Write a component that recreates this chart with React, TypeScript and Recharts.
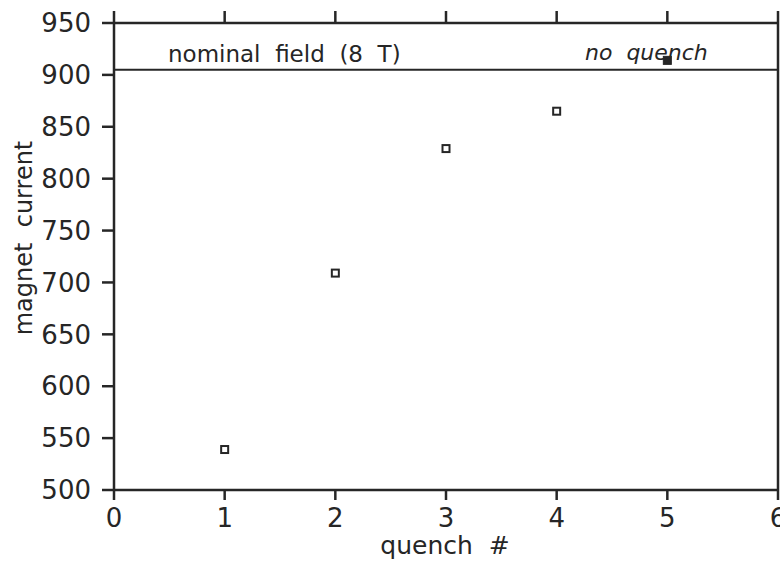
import React from 'react';
import {
  ScatterChart,
  Scatter,
  XAxis,
  YAxis,
  ReferenceLine,
  Label,
} from 'recharts';

// quenches that reached a current
const quenchNo = [1, 2, 3, 4];
const quenchCurrent = [539, 709, 829, 865];
// last run, no quench
const noQuenchNo = [5];
const noQuenchCurrent = [914];

const nominalCurrent = 905;
const xTicks = [0, 1, 2, 3, 4, 5, 6];
const yTicks = [500, 550, 600, 650, 700, 750, 800, 850, 900, 950];

const quenchData = quenchNo.map((q, i) => ({ q, current: quenchCurrent[i] }));
const noQuenchData = noQuenchNo.map((q, i) => ({ q, current: noQuenchCurrent[i] }));

const INK = '#262626';
const FONT = '"DejaVu Sans", sans-serif';
const pre = { whiteSpace: 'pre' as const };

const OpenSquare = (props: any) => (
  <rect x={props.cx - 3.5} y={props.cy - 3.5} width={7} height={7} fill="#fff" stroke={INK} strokeWidth={2} />
);
const FilledSquare = (props: any) => (
  <rect x={props.cx - 4} y={props.cy - 4} width={8} height={8} fill={INK} stroke={INK} strokeWidth={1} />
);
const NoTick = () => <g />;

export default function App() {
  const tickStyle = { fontSize: 26, fill: INK, fontFamily: FONT };
  return (
    <div style={{ position: 'absolute', left: 0, top: 0, width: 780, height: 561, background: '#fff' }}>
      <ScatterChart width={780} height={561} margin={{ top: 11, right: 0, bottom: 0, left: 0 }}>
        <XAxis
          xAxisId="bottom"
          type="number"
          dataKey="q"
          domain={[0, 6]}
          ticks={xTicks}
          interval={0}
          height={71}
          tickSize={10}
          tickMargin={9}
          tick={tickStyle}
          axisLine={{ stroke: INK, strokeWidth: 2.5 }}
          tickLine={{ stroke: INK, strokeWidth: 2.5 }}
        >
          <Label
            content={() => (
              <text x={445} y={554} textAnchor="middle" fontSize={25} fontFamily={FONT} fill={INK} style={pre}>
                quench  #
              </text>
            )}
          />
        </XAxis>
        {/* top frame with upward ticks */}
        <XAxis
          xAxisId="top"
          orientation="top"
          type="number"
          dataKey="q"
          domain={[0, 6]}
          allowDataOverflow
          ticks={xTicks}
          interval={0}
          height={12}
          tickSize={12}
          tick={NoTick}
          axisLine={{ stroke: INK, strokeWidth: 2.5 }}
          tickLine={{ stroke: INK, strokeWidth: 2.5 }}
        />
        <YAxis
          yAxisId="left"
          type="number"
          dataKey="current"
          domain={[500, 950]}
          ticks={yTicks}
          interval={0}
          width={114}
          tickSize={12}
          tickMargin={11}
          tick={tickStyle}
          axisLine={{ stroke: INK, strokeWidth: 2.5 }}
          tickLine={{ stroke: INK, strokeWidth: 2.5 }}
        >
          <Label
            content={() => (
              <text
                x={0}
                y={0}
                transform="translate(32 238) rotate(-90)"
                textAnchor="middle"
                fontSize={24}
                fontFamily={FONT}
                fill={INK}
                style={pre}
              >
                magnet  current
              </text>
            )}
          />
        </YAxis>
        <YAxis
          yAxisId="right"
          orientation="right"
          type="number"
          domain={[500, 950]}
          allowDataOverflow
          width={2}
          tick={false}
          tickLine={false}
          axisLine={{ stroke: INK, strokeWidth: 2.5 }}
        />
        <ReferenceLine
          xAxisId="bottom"
          yAxisId="left"
          y={nominalCurrent}
          stroke={INK}
          strokeWidth={2}
          ifOverflow="visible"
        >
          <Label
            content={(p: any) => {
              const vb = p.viewBox || { x: 114, y: 71 };
              return (
                <g>
                  <text x={vb.x + 54} y={vb.y - 8} fontSize={23} fontFamily={FONT} fill={INK} style={pre}>
                    nominal  field  (8  T)
                  </text>
                  <text
                    x={vb.x + 471}
                    y={vb.y - 10}
                    fontSize={22}
                    fontStyle="italic"
                    fontFamily={FONT}
                    fill={INK}
                    style={pre}
                  >
                    no  quench
                  </text>
                </g>
              );
            }}
          />
        </ReferenceLine>
        <Scatter
          xAxisId="bottom"
          yAxisId="left"
          data={quenchData}
          shape={OpenSquare}
          isAnimationActive={false}
        />
        <Scatter
          xAxisId="bottom"
          yAxisId="left"
          data={noQuenchData}
          shape={FilledSquare}
          isAnimationActive={false}
        />
      </ScatterChart>
    </div>
  );
}
